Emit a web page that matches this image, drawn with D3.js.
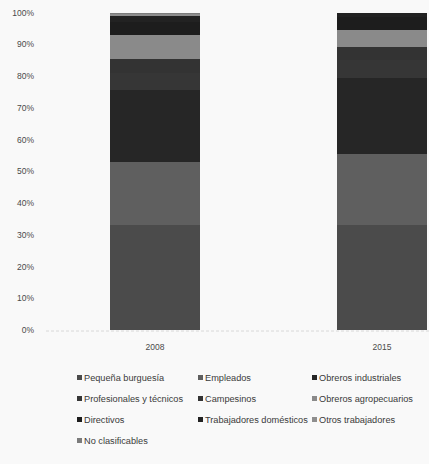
<!DOCTYPE html>
<html>
<head>
<meta charset="utf-8">
<script src="https://cdn.jsdelivr.net/npm/d3@7"></script>
<style>
  html, body { margin: 0; padding: 0; background: #f9f9f9; }
  svg { display: block; }
  text { font-family: "Liberation Sans", Arial, sans-serif; }
</style>
</head>
<body>
<div id="chart"></div>
<script>
// Class structure by year (percent of total)
const years = ["2008", "2015"];
const seriesNames = [
  "Pequeña burguesía", "Empleados", "Obreros industriales",
  "Profesionales y técnicos", "Campesinos", "Obreros agropecuarios",
  "Directivos", "Trabajadores domésticos", "Otros trabajadores",
  "No clasificables"
];
const values2008 = [33.2, 19.6, 22.8, 5.5, 4.3, 7.6, 4.0, 2.0, 0.5, 0.5];
const values2015 = [33.2, 22.2, 24.1, 5.5, 4.0, 5.4, 4.1, 1.3, 0.1, 0.1];
const seriesColors = [
  "#4b4b4b", "#5f5f5f", "#262626", "#363636", "#333333",
  "#8a8a8a", "#1d1d1d", "#222222", "#8e8e8e", "#7c7c7c"
];
const yTicks = [0, 10, 20, 30, 40, 50, 60, 70, 80, 90, 100];

const W = 429, H = 464;
const svg = d3.select("#chart").append("svg")
  .attr("width", W).attr("height", H);

// Build rows for the stack generator
const rows = years.map((yr, i) => {
  const vals = i === 0 ? values2008 : values2015;
  const row = { year: yr };
  seriesNames.forEach((s, j) => row[s] = vals[j]);
  return row;
});
const stacked = d3.stack().keys(seriesNames)(rows);

const x = d3.scaleBand().domain(years).range([42, 495]).paddingInner(0.605).paddingOuter(0.3);
const y = d3.scaleLinear().domain([0, 100]).range([330, 12.5]);
const color = d3.scaleOrdinal().domain(seriesNames).range(seriesColors);

// Category baseline
svg.append("line")
  .attr("x1", 46).attr("x2", W)
  .attr("y1", y(0) + 1).attr("y2", y(0) + 1)
  .attr("stroke", "#d8d8d8").attr("stroke-width", 1)
  .attr("stroke-dasharray", "3,2");

// Stacked segments
svg.append("g").attr("shape-rendering", "crispEdges")
  .selectAll("g")
  .data(stacked).join("g")
  .attr("fill", d => color(d.key))
  .selectAll("rect")
  .data(d => d).join("rect")
  .attr("x", d => x(d.data.year))
  .attr("width", x.bandwidth())
  .attr("y", d => y(d[1]))
  .attr("height", d => Math.max(0, y(d[0]) - y(d[1])));

// Y axis
const yAxis = d3.axisLeft(y).tickValues(yTicks).tickFormat(d => d + "%").tickSize(0).tickPadding(0);
const gy = svg.append("g").attr("transform", "translate(34,0)").call(yAxis);
gy.select(".domain").remove();
gy.selectAll("text")
  .attr("font-size", 8.5).attr("fill", "#4a4a4a")
  .style("font-family", "'Liberation Sans', Arial, sans-serif");

// X axis
const xAxis = d3.axisBottom(x).tickSize(0).tickPadding(0);
const gx = svg.append("g").attr("transform", `translate(0,${y(0) + 14})`).call(xAxis);
gx.select(".domain").remove();
gx.selectAll("text")
  .attr("font-size", 8.5).attr("fill", "#4a4a4a")
  .style("font-family", "'Liberation Sans', Arial, sans-serif");

// Legend, three columns, filled row by row
const colX = [77, 198, 312];
const rowY = [378, 399, 420, 441];
const legend = svg.append("g").selectAll("g")
  .data(seriesNames).join("g")
  .attr("transform", (d, i) => `translate(${colX[i % 3]},${rowY[Math.floor(i / 3)]})`);
legend.append("rect")
  .attr("x", 0).attr("y", -3).attr("width", 5).attr("height", 5)
  .attr("fill", d => color(d));
legend.append("text")
  .attr("x", 7).attr("y", 0).attr("dy", "0.35em")
  .attr("font-size", 9.2).attr("fill", "#3a3a3a")
  .text(d => d);
</script>
</body>
</html>
